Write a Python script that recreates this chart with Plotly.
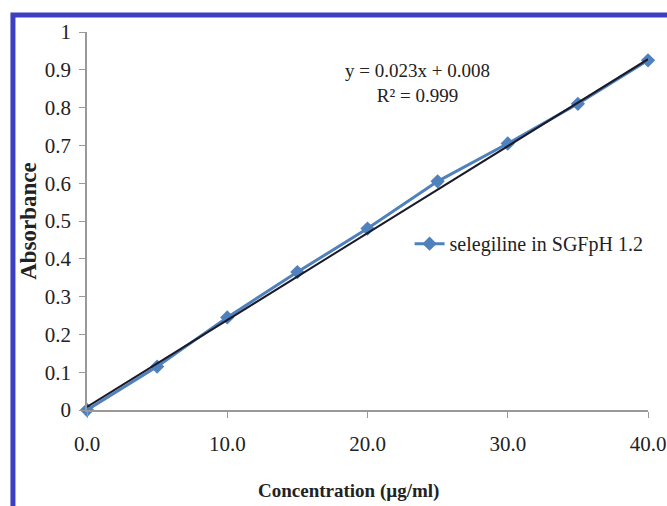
import numpy as np
import plotly.graph_objects as go

concentration = [0, 5, 10, 15, 20, 25, 30, 35, 40]
absorbance = [0.0, 0.115, 0.245, 0.365, 0.48, 0.605, 0.705, 0.81, 0.925]
slope, intercept = 0.023, 0.008
x_ticks = [0, 10, 20, 30, 40]
x_tick_text = ["0.0", "10.0", "20.0", "30.0", "40.0"]
y_ticks = [0, 0.1, 0.2, 0.3, 0.4, 0.5, 0.6, 0.7, 0.8, 0.9, 1]
y_tick_text = ["0", "0.1", "0.2", "0.3", "0.4", "0.5", "0.6", "0.7", "0.8", "0.9", "1"]

fit_x = np.array([concentration[0], concentration[-1]], dtype=float)
fit_y = slope * fit_x + intercept

FONT = "Liberation Serif"
fig = go.Figure()
fig.add_trace(go.Scatter(
    x=concentration, y=absorbance, mode="lines+markers",
    name="selegiline in SGFpH 1.2",
    line=dict(color="#4f81bd", width=3),
    marker=dict(symbol="diamond", size=11, color="#4f81bd"),
    cliponaxis=False,
))
fig.add_trace(go.Scatter(
    x=fit_x, y=fit_y, mode="lines", showlegend=False,
    line=dict(color="#1a1a2a", width=2), cliponaxis=False,
))

fig.update_layout(
    width=667, height=506,
    margin=dict(l=87, r=19, t=32, b=96),
    paper_bgcolor="white", plot_bgcolor="white",
    font=dict(family=FONT, size=20, color="#222222"),
    xaxis=dict(range=[0, 40], tickvals=x_ticks, ticktext=x_tick_text,
               showgrid=False, zeroline=False, showline=True,
               linecolor="#999999", linewidth=1.5,
               ticks="outside", ticklen=6, tickcolor="#999999",
               tickfont=dict(size=21), automargin=False, ticklabeloverflow="allow",
               ticklabelstandoff=8),
    yaxis=dict(range=[0, 1], tickvals=y_ticks, ticktext=y_tick_text,
               showgrid=False, zeroline=False, showline=True,
               linecolor="#999999", linewidth=1.5,
               ticks="outside", ticklen=6, tickcolor="#999999",
               tickfont=dict(size=21), automargin=False, ticklabelstandoff=4,
               title=dict(text="<b>Absorbance</b>", font=dict(size=23), standoff=2)),
    legend=dict(x=0.575, y=0.44, xanchor="left", yanchor="middle",
                bgcolor="rgba(0,0,0,0)", font=dict(size=20)),
    showlegend=True,
)

fig.add_annotation(xref="paper", yref="paper", x=0.467, y=-0.215,
                   text="<b>Concentration (µg/ml)</b>", showarrow=False,
                   font=dict(size=19), xanchor="center", yanchor="middle")

fig.add_annotation(xref="paper", yref="paper", x=0.59, y=0.93,
                   text="y = 0.023x + 0.008<br>R² = 0.999", showarrow=False,
                   font=dict(size=19), align="center")

fig.add_shape(type="rect", xref="paper", yref="paper",
              x0=-0.132, x1=1.2, y0=-0.5, y1=1.045,
              line=dict(color="#3c3fbf", width=5), fillcolor="rgba(0,0,0,0)")

fig.write_html("out.html")
